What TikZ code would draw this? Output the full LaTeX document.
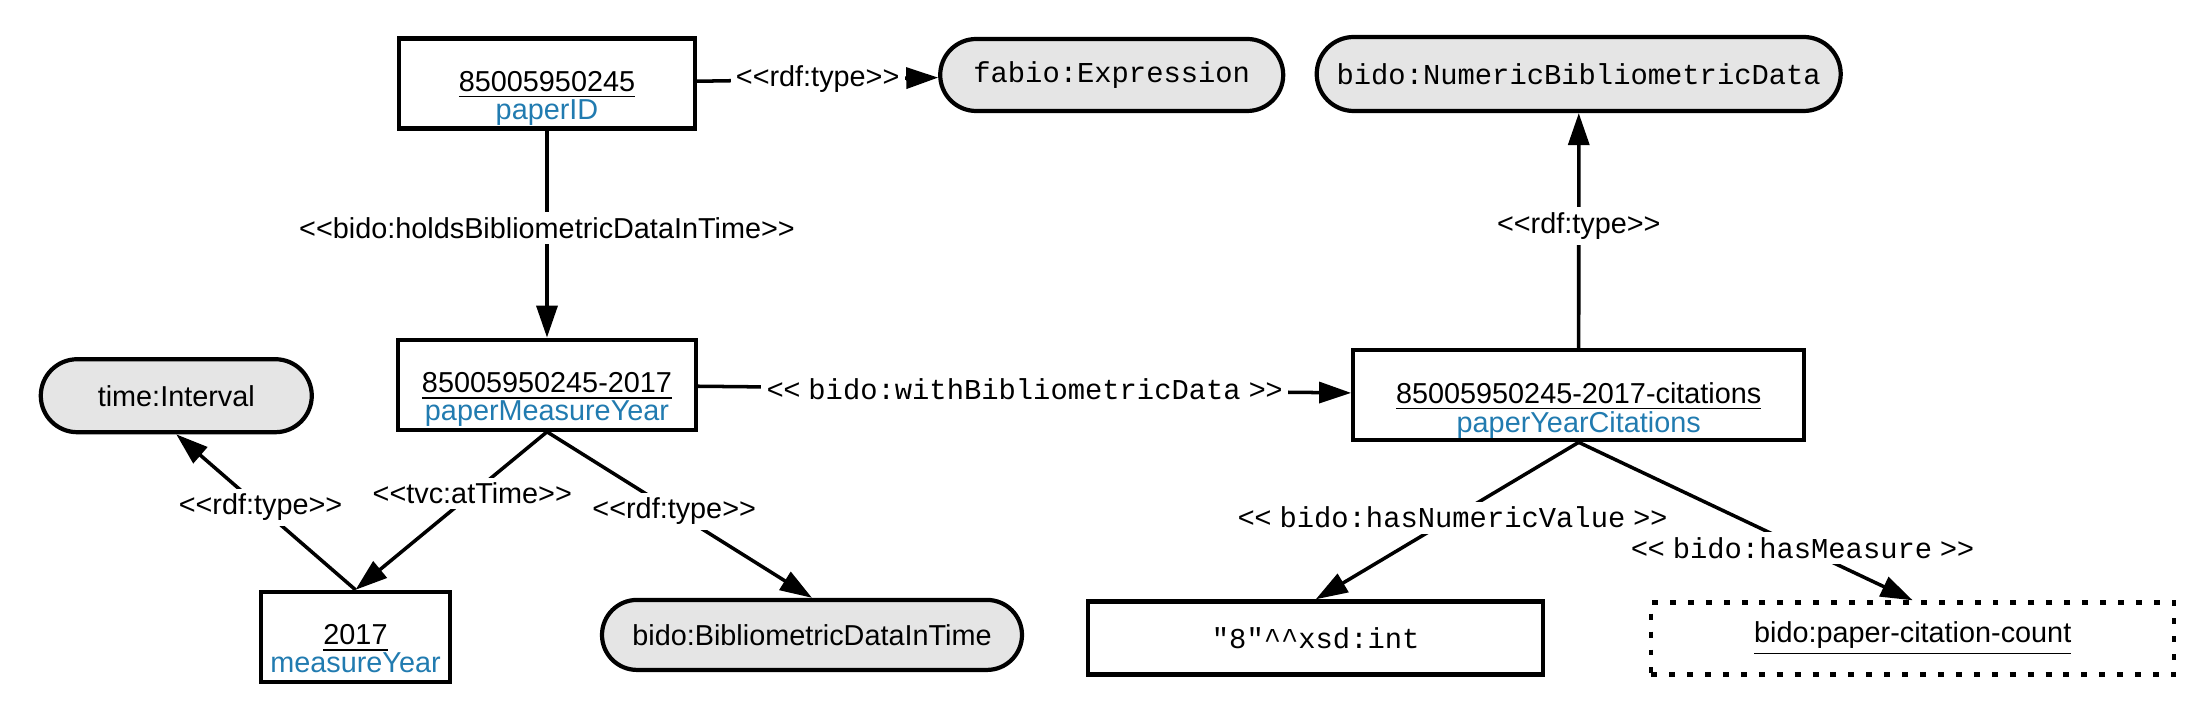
\documentclass[tikz,border=0pt]{standalone}
\usepackage{fontspec}
\setmainfont{Liberation Sans}
\setmonofont{Liberation Mono}
\usetikzlibrary{positioning, arrows.meta, shapes.misc}
\definecolor{roleblue}{RGB}{33,123,176}

\newcommand{\ltlt}{<\kern0pt<}
\newcommand{\gtgt}{>\kern0pt>}
\newcommand{\inst}[2]{\begin{tabular}[t]{@{}c@{}}\underline{#1}\\\textcolor{roleblue}{#2}\end{tabular}}

\begin{document}
\begin{tikzpicture}[
    font=\fontsize{8.2}{7.7}\selectfont,
    res/.style={draw, rectangle, line width=1.2pt, inner sep=0pt, text height=0.53cm, text depth=0.37cm},
    cls/.style={draw, rounded rectangle, fill=gray!20, line width=1.2pt, inner sep=0pt},
    lit/.style={draw, rectangle, line width=1.2pt, inner sep=0pt},
    rel/.style={line width=1pt, -{Triangle[length=0.32cm, width=0.21cm]}},
    lbl/.style={fill=white, inner sep=1.5pt}
]
    \useasboundingbox (0,0) rectangle (22.07,-7.11);

    \node[res, minimum width=2.96cm] (paper) at (5.47,-0.835) {\inst{85005950245}{paperID}};
    \node[cls, minimum width=3.43cm, minimum height=0.72cm] (expr) [right=2.41cm of paper, yshift=0.085cm] {\texttt{fabio:Expression}};
    \node[res, minimum width=2.98cm] (pmy) [below=2.07cm of paper] {\inst{85005950245-2017}{paperMeasureYear}};
    \node[cls, minimum width=2.71cm, minimum height=0.73cm] (tint) [left=0.82cm of pmy, yshift=-0.11cm] {time:Interval};
    \node[res, minimum width=1.89cm] (year) [below=1.58cm of pmy, xshift=-1.915cm] {\inst{2017}{measureYear}};
    \node[cls, minimum width=4.2cm, minimum height=0.7cm] (bdit) [below=1.66cm of pmy, xshift=2.65cm] {bido:BibliometricDataInTime};
    \node[res, minimum width=4.51cm] (pyc) [right=6.53cm of pmy, yshift=-0.105cm] {\inst{85005950245-2017-citations}{paperYearCitations}};
    \node[cls, minimum width=5.24cm, minimum height=0.74cm] (numeric) [above=2.35cm of pyc] {\texttt{bido:NumericBibliometricData}};
    \node[lit, minimum width=4.55cm, minimum height=0.73cm] (value) [below=1.57cm of pyc, xshift=-2.63cm] {\texttt{"8"\textasciicircum\textasciicircum xsd:int}};
    \node[lit, dash pattern=on 1.7pt off 3.4pt, minimum width=5.23cm, minimum height=0.72cm] (measure) [below=1.58cm of pyc, xshift=3.34cm] {\underline{bido:paper-citation-count}};

    \draw[rel] (paper) -- node[lbl] {\ltlt rdf:type\gtgt} (expr);
    \draw[rel] (paper) -- node[lbl, pos=0.47] {\ltlt bido:holdsBibliometricDataInTime\gtgt} (pmy);
    \draw[rel] (pmy) -- node[lbl] {\ltlt\ \texttt{bido:withBibliometricData}\ \gtgt} (pyc);
    \draw[rel] (pyc) -- node[lbl, pos=0.52] {\ltlt rdf:type\gtgt} (numeric);
    \draw[rel] (pmy.south) -- node[lbl, pos=0.39] {\ltlt tvc:atTime\gtgt} (year.north);
    \draw[rel] (pmy.south) -- node[lbl, pos=0.48] {\ltlt rdf:type\gtgt} (bdit.north);
    \draw[rel] (year.north) -- node[lbl, pos=0.53] {\ltlt rdf:type\gtgt} (tint.south);
    \draw[rel] (pyc.south) -- node[lbl, pos=0.48] {\ltlt\ \texttt{bido:hasNumericValue}\ \gtgt} (value.north);
    \draw[rel] (pyc.south) -- node[lbl, pos=0.67] {\ltlt\ \texttt{bido:hasMeasure}\ \gtgt} (measure.north);
\end{tikzpicture}
\end{document}
